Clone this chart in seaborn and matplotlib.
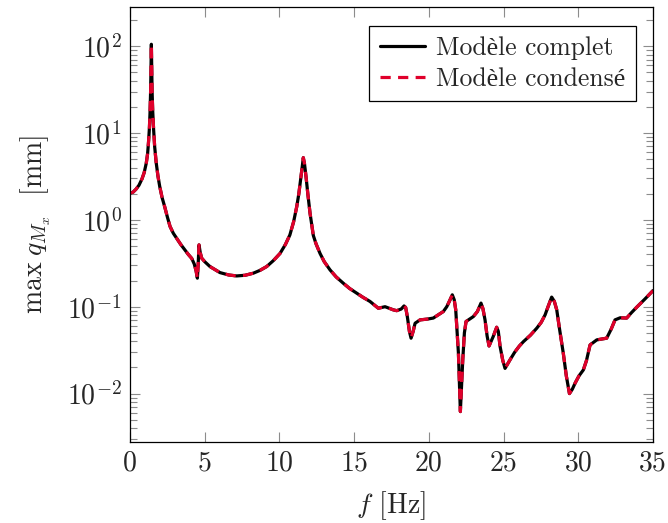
import matplotlib
matplotlib.use("Agg")
import matplotlib.pyplot as plt
import numpy as np
import pandas as pd
import seaborn as sns

# ---- data ----
freq = [0.0, 0.2, 0.4, 0.6, 0.8, 0.95, 1.09, 1.18, 1.25, 1.30, 1.34, 1.38, 1.41, 1.43,
        1.45, 1.48, 1.52, 1.58, 1.65, 1.75, 1.87, 1.99, 2.15, 2.32, 2.5, 2.68, 2.9,
        3.12, 3.4, 3.68, 3.9, 4.13, 4.3, 4.42, 4.51, 4.56, 4.62, 4.7, 4.8, 5.0, 5.35,
        6.02, 6.6, 7.14, 7.7, 8.25, 8.7, 9.15, 9.6, 10.04, 10.4, 10.7, 10.95, 11.16,
        11.3, 11.42, 11.52, 11.6, 11.68, 11.78, 11.9, 12.05, 12.27, 12.45, 12.72,
        13.0, 13.39, 13.8, 14.28, 14.7, 15.17, 15.6, 16.06, 16.62, 17.07, 17.62, 17.85,
        18.15, 18.34, 18.45, 18.56, 18.7, 18.81, 18.95, 19.08, 19.41, 19.9, 20.3, 20.97,
        21.2, 21.4, 21.57, 21.7, 21.8, 21.98, 22.05, 22.11, 22.18, 22.27, 22.38, 22.49,
        22.98, 23.25, 23.49, 23.62, 23.76, 23.9, 24.03, 24.3, 24.54, 24.65, 24.77,
        24.95, 25.1, 25.43, 25.75, 26.06, 26.33, 26.8, 27.22, 27.52, 27.78, 27.95,
        28.22, 28.4, 28.56, 28.75, 29.0, 29.2, 29.41, 29.6, 29.79, 30.05, 30.34, 30.55,
        30.79, 31.24, 31.9, 32.2, 32.46, 32.8, 33.24, 33.55, 33.91, 34.45, 35.0]
q_complet = [2.03, 2.08, 2.25, 2.5, 2.95, 3.5, 4.5, 5.8, 8.3, 11.5, 17, 30, 60, 105,
             60, 30, 18, 11, 7, 4.6, 3.2, 2.42, 1.8, 1.42, 1.08, 0.84, 0.7,
             0.615, 0.52, 0.45, 0.4, 0.36, 0.31, 0.26, 0.213, 0.3, 0.515, 0.42, 0.362, 0.33, 0.29,
             0.247, 0.232, 0.226, 0.23, 0.243, 0.262, 0.29, 0.34, 0.41, 0.52, 0.67, 0.95, 1.42,
             2.0, 2.9, 4.0, 5.2, 4.4, 3.15, 2.0, 1.19, 0.66, 0.53, 0.41,
             0.33, 0.265, 0.22, 0.186, 0.162, 0.143, 0.128, 0.115, 0.096, 0.1, 0.092, 0.090,
             0.094, 0.102, 0.098, 0.077, 0.052, 0.0434, 0.052, 0.0645, 0.0705, 0.072, 0.074, 0.088,
             0.1, 0.118, 0.137, 0.12, 0.092, 0.0291, 0.013, 0.0062, 0.011, 0.0244, 0.05, 0.0675,
             0.077, 0.088, 0.11, 0.095, 0.0705, 0.046, 0.0353, 0.045, 0.058, 0.052, 0.0347,
             0.024, 0.0195, 0.0244, 0.03, 0.0353, 0.0396, 0.047, 0.0565, 0.066, 0.0805, 0.097,
             0.129, 0.115, 0.092, 0.055, 0.029, 0.016, 0.010, 0.0112, 0.0132, 0.016, 0.0187, 0.024,
             0.0363, 0.0415, 0.0434, 0.055, 0.0705, 0.0745, 0.074, 0.085, 0.0986, 0.122, 0.153]
q_condense = list(q_complet)
series_labels = ["Modèle complet", "Modèle condensé"]
x_ticks = [0, 5, 10, 15, 20, 25, 30, 35]

sns.set_style("ticks")
plt.rcParams.update({
    "font.family": ["cmr10", "Liberation Serif"],
    "mathtext.fontset": "cm",
    "axes.formatter.use_mathtext": True,
    "font.size": 20,
})

fig = plt.figure(figsize=(6.68, 5.23), dpi=100)
ax = fig.add_axes([0.1946, 0.1549, 0.7829, 0.8317])

n = len(freq)
df = pd.DataFrame({
    "f": freq + freq,
    "q": q_complet + q_condense,
    "modele": [series_labels[0]] * n + [series_labels[1]] * n,
})

sns.lineplot(data=df, x="f", y="q", hue="modele", style="modele",
             palette=["black", "#e0002b"], dashes=["", (3.2, 2.3)],
             linewidth=2.3, estimator=None, sort=False, ax=ax)

ax.set_yscale("log")
ax.set_xlim(0, 35)
ax.set_ylim(0.00277, 282)
ax.set_xticks(x_ticks)
ax.set_xticklabels([str(t) for t in x_ticks])

ax.tick_params(which="both", direction="in", top=True, right=True, color="0.55",
               labelsize=20)
ax.tick_params(which="major", length=7.5, width=0.8, pad=6)
ax.tick_params(which="minor", length=5, width=0.8)
ax.tick_params(axis="x", which="minor", bottom=False, top=False)
for s in ax.spines.values():
    s.set_linewidth(0.9)
    s.set_color("black")

ax.set_xlabel(r"$f$ [Hz]", fontsize=20, labelpad=9)
ax.set_ylabel(r"$\max\;q_{M_x}$  [mm]", fontsize=20, labelpad=10)

handles, labels = ax.get_legend_handles_labels()
leg = ax.legend(handles, labels, loc="upper right", bbox_to_anchor=(0.967, 0.957),
                frameon=True, fancybox=False, framealpha=1, edgecolor="black",
                fontsize=18.5, handlelength=1.75, borderpad=0.4, labelspacing=0.3,
                handletextpad=0.45, borderaxespad=0.0)
leg.get_frame().set_linewidth(0.9)

fig.savefig("out.png", dpi=100)
